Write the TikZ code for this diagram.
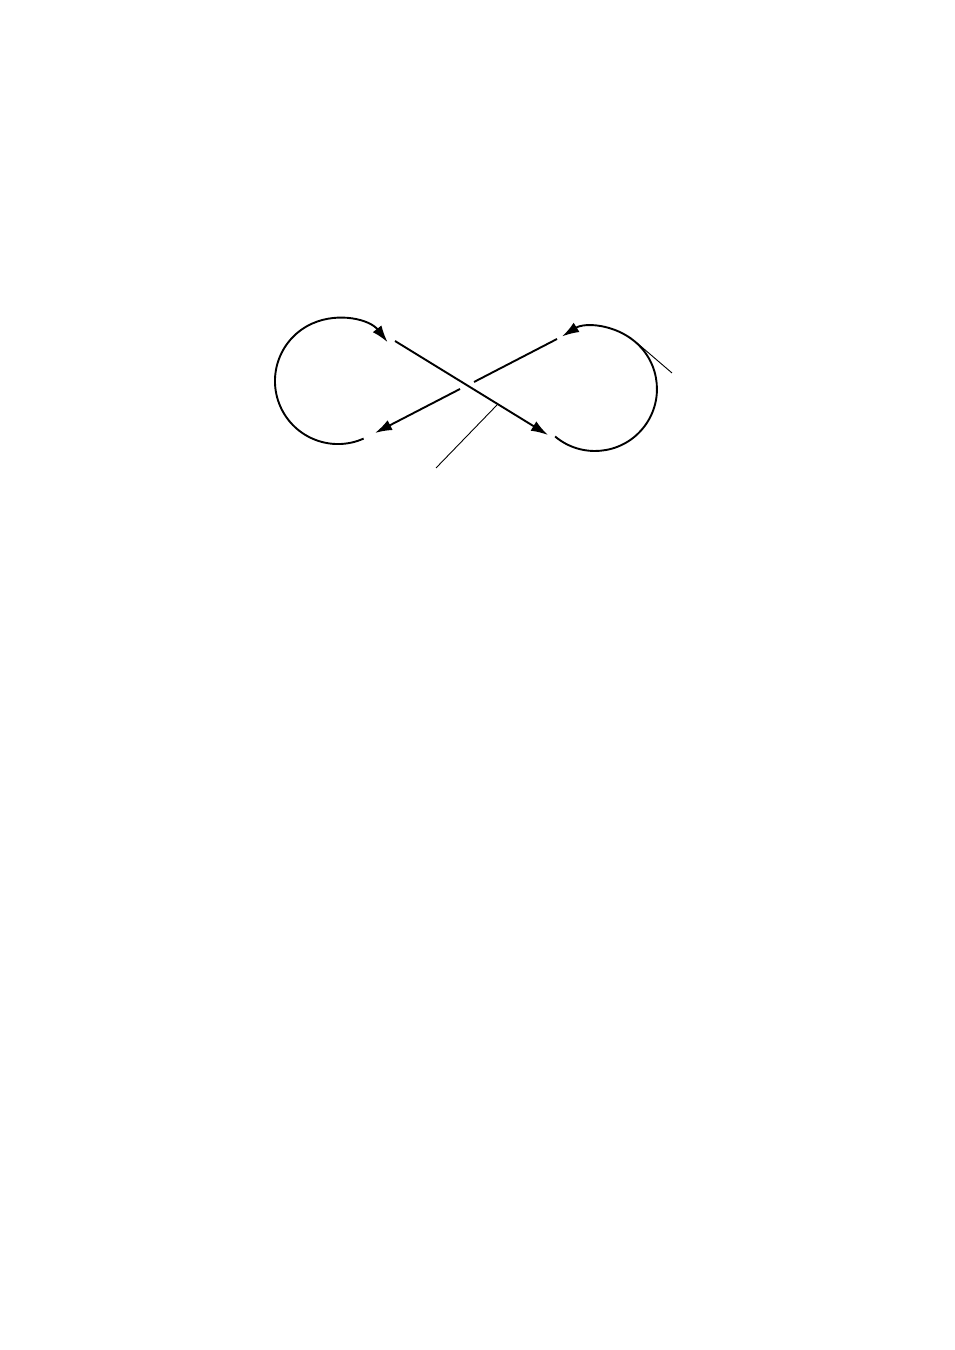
\documentclass[tikz,border=0pt]{standalone}
\usetikzlibrary{arrows.meta}

\begin{document}
\begin{tikzpicture}[
            x=1pt, y=1pt,
            strand/.style={line width=1.9pt, black},
            arrowed/.style={strand, -{Latex[length=17pt, width=11pt]}},
            leader/.style={line width=0.9pt, black},
        ]
        \useasboundingbox (0,0) rectangle (954,1350);
        % LEFT LOOP
        \coordinate (lstart) at (363.6,911.4);
        \draw[arrowed] (lstart) arc[start angle=294, end angle=38, radius=63];
        % OVER STRAND
        \coordinate (overA) at (395,1009);
        \coordinate (overB) at (548,915);
        \draw[arrowed] (overA) -- (overB);
        % RIGHT LOOP
        \coordinate (rstart) at (555.1,913.5);
        \draw[arrowed] (rstart) arc[start angle=230, end angle=482, radius=62];
        % UNDER STRAND
        \coordinate (underA) at (557,1011);
        \coordinate (underB) at (474,968);
        \coordinate (underC) at (460,961);
        \coordinate (underD) at (375,917);
        \draw[strand] (underA) -- (underB);
        \draw[arrowed] (underC) -- (underD);
        % LEADERS
        \coordinate (crossfoot) at (497,945);
        \coordinate (crossend) at (436,882);
        \coordinate (tanfoot) at (637,1007);
        \coordinate (tanend) at (672,977);
        \draw[leader] (crossfoot) -- (crossend);
        \draw[leader] (tanfoot) -- (tanend);
\end{tikzpicture}
\end{document}
